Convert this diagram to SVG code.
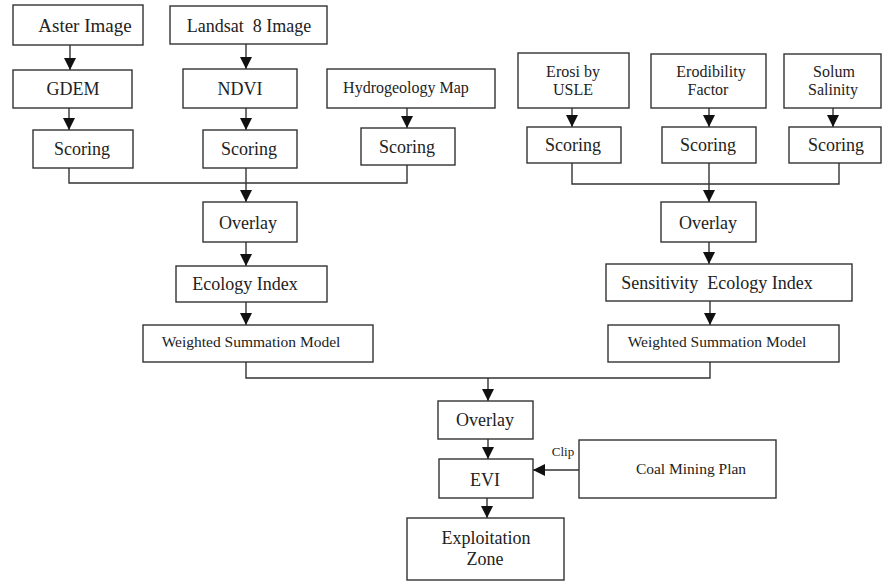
<svg xmlns="http://www.w3.org/2000/svg" width="882" height="581" viewBox="0 0 882 581">
<style>
.box{fill:#fff;stroke:#333;stroke-width:1.4}
.t{font-family:"Liberation Serif","Times New Roman",serif;fill:#222;text-anchor:middle}
.t18{font-size:18px}
.t16{font-size:16px}
.t15{font-size:15.5px}
.ln{fill:none;stroke:#333;stroke-width:1.4}
</style>
<defs>
<marker id="ah" markerUnits="userSpaceOnUse" markerWidth="12" markerHeight="12" viewBox="0 0 12 12" refX="12" refY="6" orient="auto">
<path d="M0,0 L12,6 L0,12 Z" fill="#111"/>
</marker>
</defs>
<rect width="882" height="581" fill="#fff"/>
<g id="connectors">
<line class="ln" x1="70" y1="45" x2="70" y2="70" marker-end="url(#ah)"/>
<line class="ln" x1="246" y1="44" x2="246" y2="69" marker-end="url(#ah)"/>
<line class="ln" x1="69" y1="108" x2="69" y2="130" marker-end="url(#ah)"/>
<line class="ln" x1="246" y1="108" x2="246" y2="130" marker-end="url(#ah)"/>
<line class="ln" x1="407" y1="108" x2="407" y2="128" marker-end="url(#ah)"/>
<polyline class="ln" points="69,168 69,183 407,183 407,165"/>
<line class="ln" x1="246" y1="168" x2="246" y2="202" marker-end="url(#ah)"/>
<line class="ln" x1="246" y1="242" x2="246" y2="266" marker-end="url(#ah)"/>
<line class="ln" x1="246" y1="302" x2="246" y2="325" marker-end="url(#ah)"/>
<line class="ln" x1="572" y1="108" x2="572" y2="127" marker-end="url(#ah)"/>
<line class="ln" x1="709" y1="108" x2="709" y2="127" marker-end="url(#ah)"/>
<line class="ln" x1="833" y1="108" x2="833" y2="127" marker-end="url(#ah)"/>
<polyline class="ln" points="572,163 572,184 839,184 839,163"/>
<line class="ln" x1="709" y1="163" x2="709" y2="202" marker-end="url(#ah)"/>
<line class="ln" x1="709" y1="242" x2="709" y2="264" marker-end="url(#ah)"/>
<line class="ln" x1="710" y1="301" x2="710" y2="325" marker-end="url(#ah)"/>
<polyline class="ln" points="246,362 246,378 710,378 710,362"/>
<line class="ln" x1="488" y1="378" x2="488" y2="401" marker-end="url(#ah)"/>
<line class="ln" x1="488" y1="439" x2="488" y2="459" marker-end="url(#ah)"/>
<line class="ln" x1="487" y1="498" x2="487" y2="518" marker-end="url(#ah)"/>
<line class="ln" x1="579" y1="470" x2="533" y2="470" marker-end="url(#ah)"/>
<text class="t" x="563" y="456" style="font-size:13px">Clip</text>
</g>
<g id="aster"><rect class="box" x="13" y="5" width="130" height="40"/><text class="t t18" x="85" y="32" style="font-size:19px">Aster Image</text></g>
<g id="landsat"><rect class="box" x="170" y="6" width="157" height="38"/><text class="t t18" x="249" y="32" xml:space="preserve">Landsat  8 Image</text></g>
<g id="gdem"><rect class="box" x="13" y="70" width="119" height="38"/><text class="t t18" x="73" y="95">GDEM</text></g>
<g id="ndvi"><rect class="box" x="183" y="69" width="114" height="39"/><text class="t t18" x="240" y="95">NDVI</text></g>
<g id="hydro"><rect class="box" x="327" y="69" width="168" height="39"/><text class="t t16" x="406" y="93">Hydrogeology Map</text></g>
<g id="scoring1"><rect class="box" x="33" y="130" width="100" height="38"/><text class="t t18" x="82" y="155">Scoring</text></g>
<g id="scoring2"><rect class="box" x="203" y="130" width="94" height="38"/><text class="t t18" x="249" y="155">Scoring</text></g>
<g id="scoring3"><rect class="box" x="361" y="128" width="94" height="37"/><text class="t t18" x="407" y="153">Scoring</text></g>
<g id="erosi"><rect class="box" x="518" y="53" width="111" height="55"/><text class="t t16" x="573" y="77">Erosi by</text><text class="t t16" x="573" y="95">USLE</text></g>
<g id="erodibility"><rect class="box" x="651" y="54" width="115" height="54"/><text class="t t16" x="711" y="77">Erodibility</text><text class="t t16" x="708" y="95">Factor</text></g>
<g id="solum"><rect class="box" x="784" y="54" width="97" height="54"/><text class="t t16" x="834" y="77">Solum</text><text class="t t16" x="833" y="95">Salinity</text></g>
<g id="scoring4"><rect class="box" x="527" y="127" width="94" height="36"/><text class="t t18" x="573" y="151">Scoring</text></g>
<g id="scoring5"><rect class="box" x="662" y="127" width="94" height="36"/><text class="t t18" x="708" y="151">Scoring</text></g>
<g id="scoring6"><rect class="box" x="789" y="127" width="92" height="36"/><text class="t t18" x="836" y="151">Scoring</text></g>
<g id="overlay-left"><rect class="box" x="203" y="202" width="94" height="40"/><text class="t t18" x="248" y="229">Overlay</text></g>
<g id="overlay-right"><rect class="box" x="661" y="202" width="95" height="40"/><text class="t t18" x="708" y="229">Overlay</text></g>
<g id="ecology-index"><rect class="box" x="176" y="266" width="151" height="36"/><text class="t t18" x="245" y="290">Ecology Index</text></g>
<g id="sensitivity"><rect class="box" x="606" y="264" width="246" height="37"/><text class="t t18" x="717" y="289" xml:space="preserve">Sensitivity  Ecology Index</text></g>
<g id="wsm-left"><rect class="box" x="143" y="325" width="230" height="37"/><text class="t t15" x="251" y="347">Weighted Summation Model</text></g>
<g id="wsm-right"><rect class="box" x="608" y="325" width="231" height="37"/><text class="t t15" x="717" y="347">Weighted Summation Model</text></g>
<g id="overlay-bottom"><rect class="box" x="438" y="401" width="95" height="38"/><text class="t t18" x="485" y="426">Overlay</text></g>
<g id="evi"><rect class="box" x="439" y="459" width="94" height="39"/><text class="t t18" x="485" y="486">EVI</text></g>
<g id="coal"><rect class="box" x="579" y="440" width="197" height="58"/><text class="t t15" x="691" y="474">Coal Mining Plan</text></g>
<g id="exploitation"><rect class="box" x="407" y="518" width="157" height="62"/><text class="t t18" x="486" y="544">Exploitation</text><text class="t t18" x="485" y="565">Zone</text></g>
</svg>
